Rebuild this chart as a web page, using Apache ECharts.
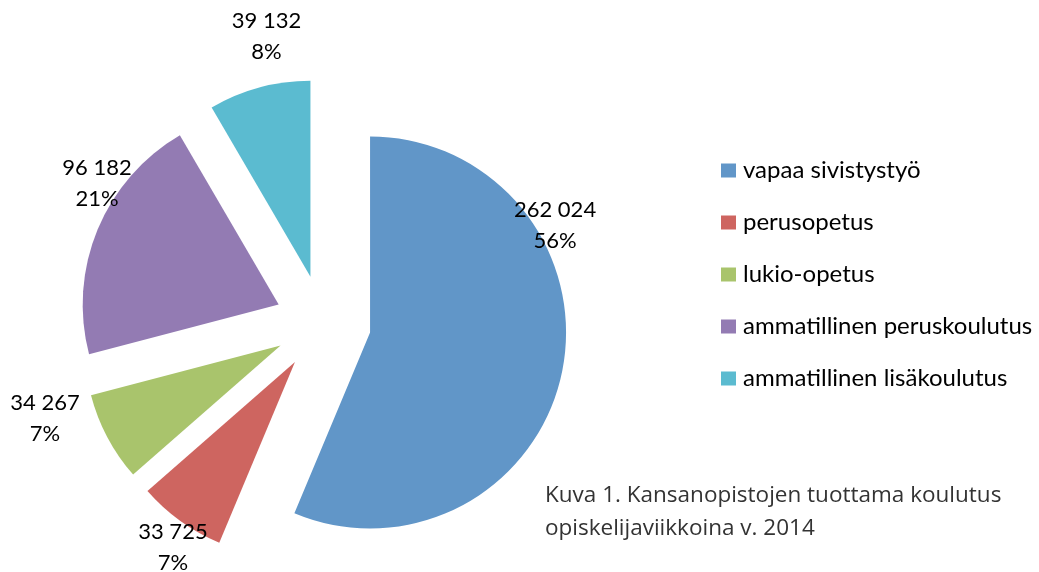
<!DOCTYPE html>
<html><head><meta charset="utf-8">
<script src="https://cdn.jsdelivr.net/npm/echarts@6/dist/echarts.min.js"></script>
<style>html,body{margin:0;padding:0;background:#fff}#c{width:1039px;height:572px}</style>
</head><body><div id="c"></div>
<script>
const categories = ['vapaa sivistystyö', 'perusopetus', 'lukio-opetus', 'ammatillinen peruskoulutus', 'ammatillinen lisäkoulutus'];
const values = [262024, 33725, 34267, 96182, 39132];
const colors = ['#6196C8', '#CE6560', '#A9C46C', '#937BB3', '#5BBBD0'];
const caption = 'Kuva 1. Kansanopistojen tuottama koulutus\nopiskelijaviikkoina v. 2014';

const total = values.reduce((a, b) => a + b, 0);
const CX = 323, CY = 323, R = 196, EXPLODE = 48;
// label placement tweaks: [angle shift from slice mid-angle (deg), distance beyond rim (px)]
const labelTweak = [[-41.4, 17.7], [-2.35, 25.6], [10.85, 50.5], [11.3, 22.6], [4.75, 48]];

function fmt(v) { return String(v).replace(/\B(?=(\d{3})+(?!\d))/g, ' '); }

const chart = echarts.init(document.getElementById('c'), null, { renderer: 'canvas' });
chart.setOption({
  animation: false,
  backgroundColor: '#fff',
  title: {
    text: caption, left: 545, top: 479, padding: 0,
    textStyle: { fontFamily: 'Open Sans', fontSize: 22.5, fontWeight: 'normal', color: '#333', lineHeight: 33 }
  },
  legend: {
    orient: 'vertical', left: 721, top: 158.5, padding: 0, icon: 'rect', itemWidth: 15, itemHeight: 14, itemGap: 28,
    selectedMode: false,
    textStyle: { fontFamily: 'Lato', fontSize: 24, lineHeight: 24, color: '#000', padding: [0, 0, 0, 2] },
    data: categories.map((n, i) => ({ name: n, itemStyle: { color: colors[i] } }))
  },
  series: [{
    type: 'pie', center: [CX, CY], radius: R, startAngle: 90, clockwise: true,
    selectedMode: 'multiple', selectedOffset: EXPLODE,
    itemStyle: { borderWidth: 0 },
    select: { itemStyle: { borderWidth: 0 } },
    emphasis: { disabled: true },
    label: { show: false },
    labelLine: { show: false },
    data: categories.map((n, i) => ({ name: n, value: values[i], selected: true, itemStyle: { color: colors[i] } }))
  }, {
    type: 'pie', center: [CX, CY], radius: R, startAngle: 90, clockwise: true,
    silent: true, avoidLabelOverlap: false,
    itemStyle: { color: 'rgba(0,0,0,0)', borderWidth: 0 },
    emphasis: { disabled: true },
    label: {
      show: true, position: 'outside', fontFamily: 'Lato', fontSize: 22, lineHeight: 31, color: '#000', align: 'center',
      formatter: p => fmt(p.value) + '\n' + Math.round(p.value / total * 100) + '%'
    },
    labelLine: { show: false },
    labelLayout: function (p) {
      const i = p.dataIndex;
      let start = 0;
      for (let k = 0; k < i; k++) start += values[k];
      const mid = (start + values[i] / 2) / total * 2 * Math.PI;
      const vx = CX + EXPLODE * Math.sin(mid), vy = CY - EXPLODE * Math.cos(mid);
      const a = mid + labelTweak[i][0] * Math.PI / 180;
      const d = R + labelTweak[i][1];
      return { x: vx + d * Math.sin(a), y: vy - d * Math.cos(a), align: 'center', verticalAlign: 'middle' };
    },
    data: categories.map((n, i) => ({ name: n, value: values[i] }))
  }]
});
</script></body></html>
